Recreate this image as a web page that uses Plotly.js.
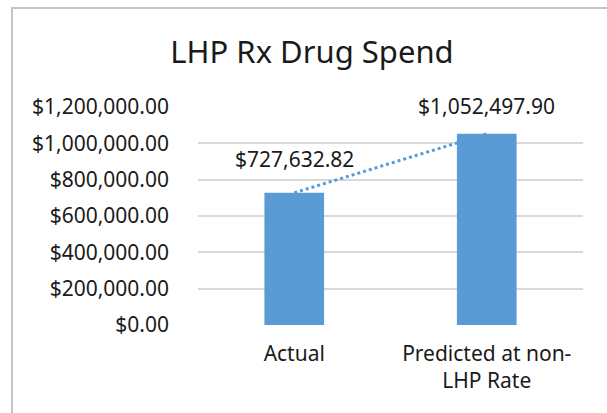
<!DOCTYPE html>
<html>
<head>
<meta charset="utf-8">
<script src="https://cdn.plot.ly/plotly-3.0.1.min.js"></script>
<style>
  html, body { margin: 0; padding: 0; background: #fff; }
  #wrap { position: relative; width: 607px; height: 413px; overflow: hidden; }
  #chart { position: absolute; left: 0; top: 0; width: 607px; height: 413px; }
  #frame { position: absolute; left: 11px; top: 7px; width: 700px; height: 500px;
           border-left: 2px solid #c4c4c4; border-top: 2px solid #c4c4c4; pointer-events: none; }
</style>
</head>
<body>
<div id="wrap">
  <div id="chart"></div>
  <div id="frame"></div>
</div>
<script>
// Data
const categories = ["Actual", "Predicted at non-<br>LHP Rate"];
const spend = [727632.82, 1052497.90];
const yTickVals = [0, 200000, 400000, 600000, 800000, 1000000, 1200000];
const chartTitle = "LHP Rx Drug Spend";

const barColor = "#5b9bd5";
const fontFam = "Noto Sans, Open Sans, sans-serif";
const textColor = "#1a1a1a";
const labelShift = [18, 12];

function money(v) {
  return "$" + v.toLocaleString("en-US", {minimumFractionDigits: 2, maximumFractionDigits: 2});
}

const traces = [
  {
    type: "bar",
    x: categories,
    y: spend,
    width: 0.31,
    marker: {color: barColor},
    hoverinfo: "none"
  },
  {
    type: "scatter",
    mode: "lines",
    x: categories,
    y: spend,
    line: {color: barColor, width: 3, dash: "dot"},
    hoverinfo: "none"
  }
];

const annotations = categories.map((c, i) => ({
  x: c, y: spend[i], xref: "x", yref: "y",
  text: money(spend[i]), showarrow: false,
  yanchor: "bottom", yshift: labelShift[i],
  font: {family: fontFam, size: 21, color: textColor}
}));

const layout = {
  width: 607, height: 413,
  margin: {l: 198, r: 24, t: 107, b: 88, pad: 0},
  paper_bgcolor: "#fff", plot_bgcolor: "#fff",
  showlegend: false,
  title: {
    text: chartTitle,
    font: {family: fontFam, size: 31, color: textColor},
    x: 0.514, xanchor: "center", xref: "container",
    y: 0.874, yanchor: "middle", yref: "container"
  },
  xaxis: {
    type: "category",
    showgrid: false, zeroline: false, showline: false,
    ticks: "", ticklabelstandoff: 14,
    tickfont: {family: fontFam, size: 21, color: textColor}
  },
  yaxis: {
    range: [0, 1200000],
    tickmode: "array",
    tickvals: yTickVals,
    ticktext: yTickVals.map(money),
    showgrid: true, gridcolor: "#d9d9d9", gridwidth: 2,
    zeroline: false, showline: false, ticks: "",
    ticklabelstandoff: 28,
    tickfont: {family: fontFam, size: 21, color: textColor}
  },
  annotations: annotations
};

Plotly.newPlot("chart", traces, layout, {staticPlot: true, displayModeBar: false});
</script>
</body>
</html>
